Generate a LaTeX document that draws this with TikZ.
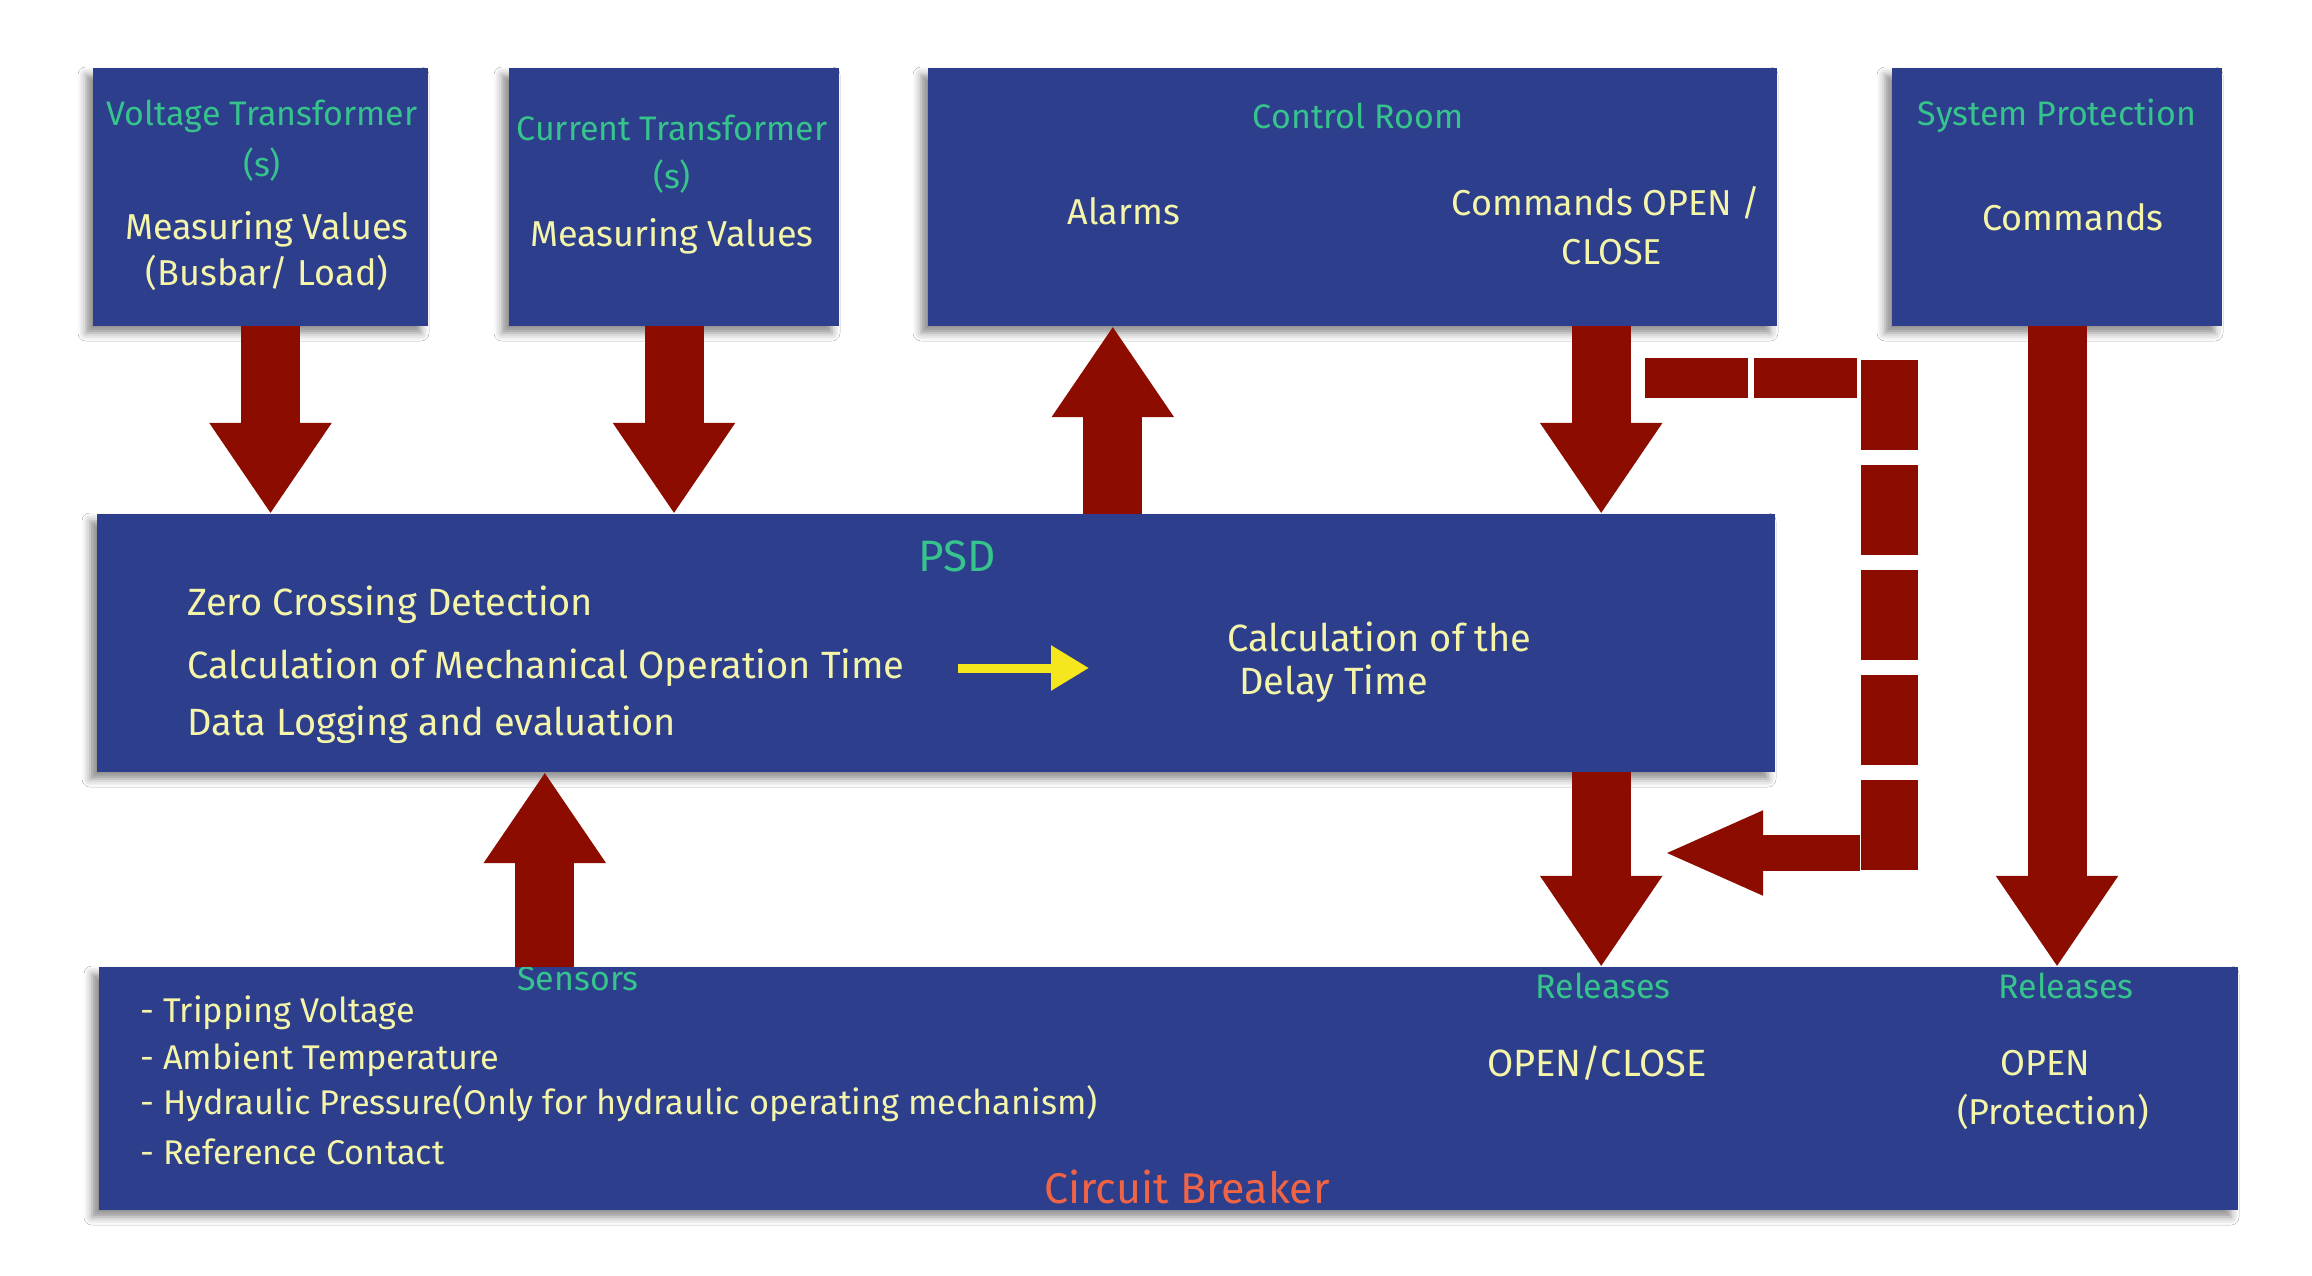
\documentclass[tikz,border=0pt]{standalone}
\usepackage{fontspec}
\setmainfont{Fira Sans}
\usetikzlibrary{arrows.meta,shadows.blur,calc}
\definecolor{boxblue}{RGB}{44,62,140}
\definecolor{arrred}{RGB}{140,12,0}
\definecolor{ttlgreen}{RGB}{55,195,140}
\definecolor{txtyellow}{RGB}{245,245,170}
\definecolor{cbred}{RGB}{240,100,70}
\definecolor{psdyellow}{RGB}{245,230,30}
\begin{document}
\begin{tikzpicture}[x=1pt,y=-1pt,
  box/.style={fill=boxblue, draw=none, inner sep=0pt, minimum height=258pt,
    blur shadow={shadow xshift=-7pt, shadow yshift=-7pt, shadow blur radius=8pt, shadow opacity=45}},
  ttl/.style={text=ttlgreen, font=\fontsize{34}{38}\selectfont, inner sep=0pt},
  txt/.style={text=txtyellow, font=\fontsize{36}{40}\selectfont, inner sep=0pt},
  psdtxt/.style={text=txtyellow, font=\fontsize{38}{42}\selectfont, inner sep=0pt, anchor=west},
  bul/.style={text=txtyellow, font=\fontsize{34.3}{38}\selectfont, inner sep=0pt, anchor=west},
  redarr/.style={draw=arrred, line width=59pt, -{Triangle[width=116pt,length=91pt]}},
  yelarr/.style={draw=psdyellow, line width=9pt, -{Triangle[width=43pt,length=38pt]}},
]
\fill[white] (0,0) rectangle (2312,1276);
\useasboundingbox (0,0) rectangle (2312,1276);

% boxes
\node[box, minimum width=335pt] (vt) at (260.5,197) {};
\node[box, minimum width=330pt] (ct) at (674,197) {};
\node[box, minimum width=849pt] (cr) at (1352.5,197) {};
\node[box, minimum width=330pt] (sp) at (2057,197) {};
\node[box, minimum width=1678pt] (psd) at (936,643) {};
\node[box, minimum width=2139pt, minimum height=243pt] (cb) at (1168.5,1088.5) {};

% texts: voltage transformer
\node[ttl] (vtt) at (262,116) {Voltage Transformer};
\node[ttl] (vts) at (262,165) {(s)};
\node[txt] (vtm) at (267,229) {Measuring Values};
\node[txt] (vtb) at (267,273) {(Busbar/ Load)};
% current transformer
\node[ttl] (ctt) at (672,128) {Current Transformer};
\node[ttl] (cts) at (672,177) {(s)};
\node[txt] (ctm) at (672,236) {Measuring Values};
% control room
\node[ttl] (crt) at (1358,116) {Control Room};
\node[txt] (cra) at (1124,211) {Alarms};
\node[txt] (crc) at (1606,203) {Commands OPEN /};
\node[txt] (crc2) at (1612,252) {CLOSE};
% system protection
\node[ttl] (spt) at (2057,116) {System Protection};
\node[txt] (spc) at (2073,217) {Commands};
% PSD
\node[ttl, font=\fontsize{44}{48}\selectfont] (psdt) at (957,556) {PSD};
\node[psdtxt] (p1) at (187,605) {Zero Crossing Detection};
\node[psdtxt] (p2) at (187,668) {Calculation of Mechanical Operation Time};
\node[psdtxt] (p3) at (187,725) {Data Logging and evaluation};
\node[psdtxt] (p4) at (1227,637) {Calculation of the};
\node[psdtxt] (p5) at (1239,684) {Delay Time};
\coordinate (ya) at (958,668);
\coordinate (yb) at (1089,668);
\draw[yelarr] (ya) -- (yb);
% circuit breaker
\node[ttl] (sens) at (578,979) {Sensors};
\node[bul] (b1) at (140,1013) {- Tripping Voltage};
\node[bul] (b2) at (140,1060) {- Ambient Temperature};
\node[bul] (b3) at (140,1104) {- Hydraulic Pressure(Only for hydraulic operating mechanism)};
\node[bul] (b4) at (140,1152) {- Reference Contact};
\node[ttl] (rel1) at (1603,986) {Releases};
\node[txt, font=\fontsize{38}{42}\selectfont] (oc) at (1597,1063) {OPEN/CLOSE};
\node[ttl] (rel2) at (2066,986) {Releases};
\node[txt] (op) at (2045,1063) {OPEN};
\node[txt] (prot) at (2053,1112) {(Protection)};
\node[text=cbred, font=\fontsize{43}{47}\selectfont, inner sep=0pt] (cbt) at (1187,1187) {Circuit Breaker};

% arrow columns
\coordinate (a1) at ([xshift=10pt]vt.south);
\coordinate (alm) at ([xshift=185pt]cr.south west);
\coordinate (cmd) at ([xshift=-176pt]cr.south east);
\coordinate (sen) at ([xshift=446pt]cb.north west);

\draw[redarr] (a1) -- (a1 |- psd.north);
\draw[redarr] (ct.south) -- (ct.south |- psd.north);
\draw[redarr] (alm |- psd.north) -- (alm);
\draw[redarr] (cmd) -- (cmd |- psd.north);
\draw[redarr] (cmd |- psd.south) -- (cmd |- cb.north);
\draw[redarr] (sp.south) -- (sp.south |- cb.north);
\draw[redarr] (sen |- cb.north) -- (sen |- psd.south);

% dashed feedback path
\coordinate (fb1) at (1645,378);
\coordinate (fb2) at (1860,378);
\coordinate (fb3) at (1889,360);
\coordinate (fb4) at (1889,873);
\coordinate (fb5) at (1860,853);
\coordinate (fb6) at (1663,853);
\draw[arrred, line width=40pt, dash pattern=on 103pt off 6pt] (fb1) -- (fb2);
\draw[arrred, line width=57pt, dash pattern=on 90pt off 15pt] (fb3) -- (fb4);
\draw[arrred, line width=36pt, -{Triangle[width=77pt,length=100pt]}] (fb5) -- (fb6);
\end{tikzpicture}
\end{document}
